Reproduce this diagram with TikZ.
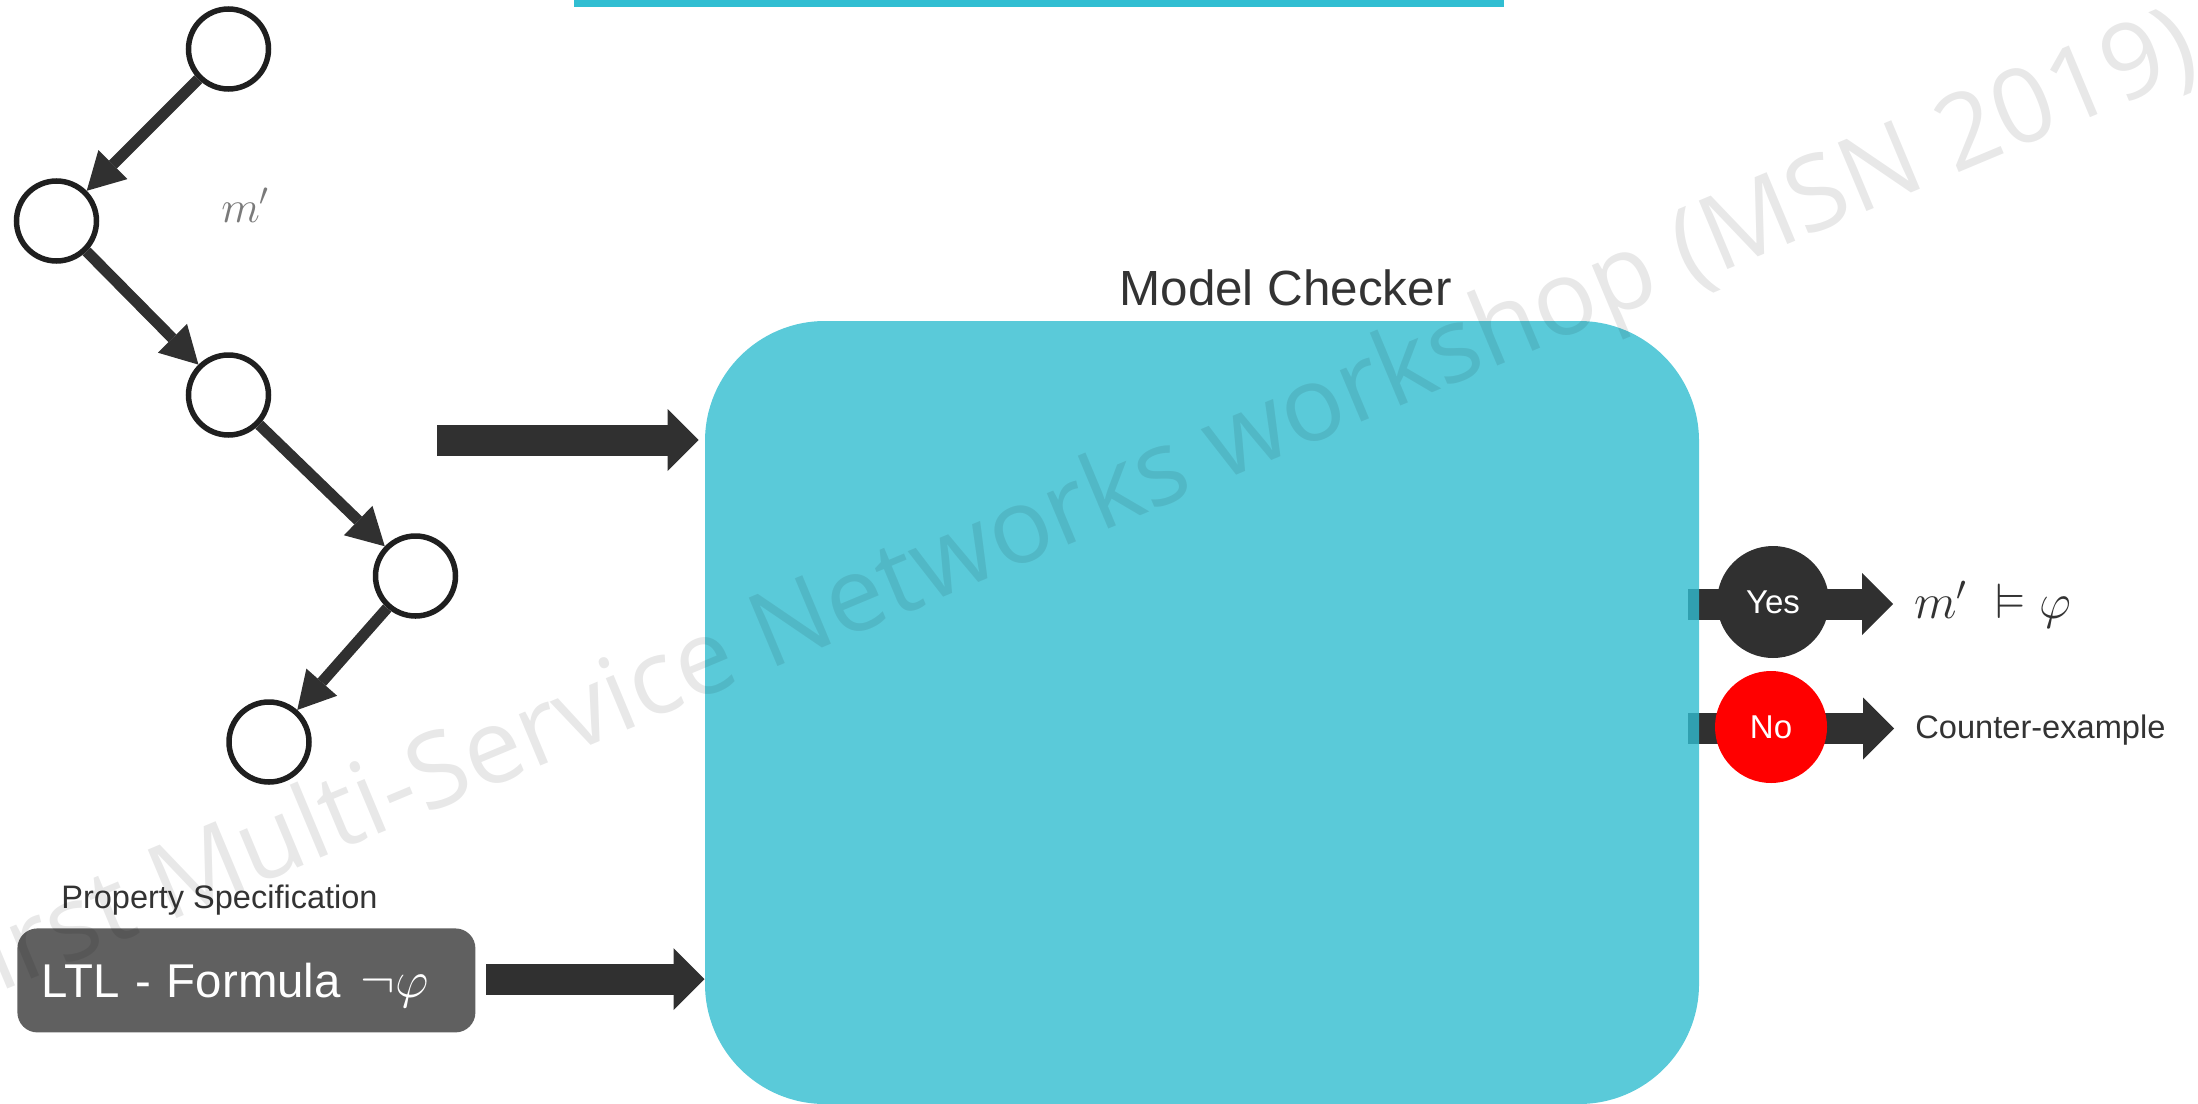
\RequirePackage{fix-cm}
\documentclass[tikz,border=0pt]{standalone}
\usepackage{amssymb}
\usepackage{fontspec}
\setmainfont{Liberation Sans}
\newfontfamily\wmfont{Open Sans}
\usetikzlibrary{arrows.meta}

\definecolor{ink}{HTML}{303030}
\definecolor{txt}{HTML}{333333}
\definecolor{ring}{HTML}{1F1F1F}
\definecolor{mcteal}{HTML}{31BDD0}
\definecolor{barteal}{HTML}{31BED2}
\definecolor{specgray}{HTML}{606060}
\definecolor{nored}{HTML}{FF0000}
\definecolor{mgray}{HTML}{7A7A7A}

\begin{document}
\begin{tikzpicture}[x=0.5pt,y=-0.5pt,
  state/.style={circle, draw=ring, fill=white, line width=2.75pt,
    minimum size=40pt, inner sep=0pt},
  treearrow/.style={draw=ink, line width=5.5pt,
    -{Triangle[length=18.5pt,width=20.5pt,line width=0pt]}},
  blockarrow/.style={draw=ink, line width=15.5pt,
    -{Triangle[length=15.5pt,width=31pt,line width=0pt]}},
  verdict/.style={circle, minimum size=56pt, inner sep=0pt, text=white,
    font=\fontsize{16.5}{19}\selectfont},
  label/.style={anchor=base west, inner sep=0pt, text=txt},
  specbox/.style={rectangle, rounded corners=10pt, fill=specgray,
    minimum width=229pt, minimum height=52pt, inner xsep=12pt,
    text width=205pt, align=left, text height=17pt, text depth=0pt,
    text=white, font=\fontsize{23.7}{28}\selectfont}]

\useasboundingbox (0,0) rectangle (2198,1103);
\clip (0,0) rectangle (2198,1103);

% accent bar along the top edge
\fill[barteal] (574,0) rectangle (1504,7);

% the model m' as a chain of states
\node[state] (s1) at (228.5,49) {};
\node[state] (s2) at (56.5,221) {};
\node[state] (s3) at (228.5,395) {};
\node[state] (s4) at (415.5,576) {};
\node[state] (s5) at (269,742) {};
\draw[treearrow] (s1) -- (s2);
\draw[treearrow] (s2) -- (s3);
\draw[treearrow] (s3) -- (s4);
\draw[treearrow] (s4) -- (s5);
\node[anchor=base west, inner sep=0pt, text=mgray,
  font=\fontsize{22.5}{26}\selectfont] (mname) at (221,222) {$m'$};

% outputs leave the checker (drawn first, the checker lies over their ends)
\coordinate (yesfrom) at (1688,604);
\coordinate (yesto) at (1893,604);
\coordinate (nofrom) at (1688,728.5);
\coordinate (noto) at (1894,728.5);
\draw[blockarrow] (yesfrom) -- (yesto);
\draw[blockarrow] (nofrom) -- (noto);

% the model checker
\node[label, font=\fontsize{24.7}{30}\selectfont] (mctitle) at (1119,305) {Model Checker};
\fill[mcteal, fill opacity=0.8, rounded corners=60pt] (705,321) rectangle (1699,1104);

% inputs
\coordinate (modelout) at (437,440);
\coordinate (modelin) at (698.5,440);
\draw[blockarrow] (modelout) -- (modelin);

\node[label, font=\fontsize{16.25}{19}\selectfont] (spectitle) at (61,908) {Property Specification};
\node[specbox, anchor=north west] (ltl) at (17,928)
  {LTL - Formula\hspace{10pt}{\fontsize{26}{30}\selectfont$\neg\varphi$}};
\coordinate (specout) at (486,979);
\coordinate (specin) at (704.5,979);
\draw[blockarrow] (specout) -- (specin);

% verdicts
\node[verdict, fill=ink] (yes) at (1773,602) {Yes};
\node[verdict, fill=nored] (no) at (1771,727) {No};
\node[label, font=\fontsize{24.8}{29}\selectfont] (holds) at (1914,618) {$m'\;\vDash\varphi$};
\node[label, font=\fontsize{16.3}{19}\selectfont] (cex) at (1915,738) {Counter-example};

% watermark
\node[anchor=base west, inner sep=0pt, rotate=22.7, text=black, text opacity=0.09,
  font=\wmfont\fontsize{52}{60}\selectfont] (wm) at (768,671)
  {\llap{First Multi-Service }Networks workshop (MSN 2019)};
\end{tikzpicture}
\end{document}
